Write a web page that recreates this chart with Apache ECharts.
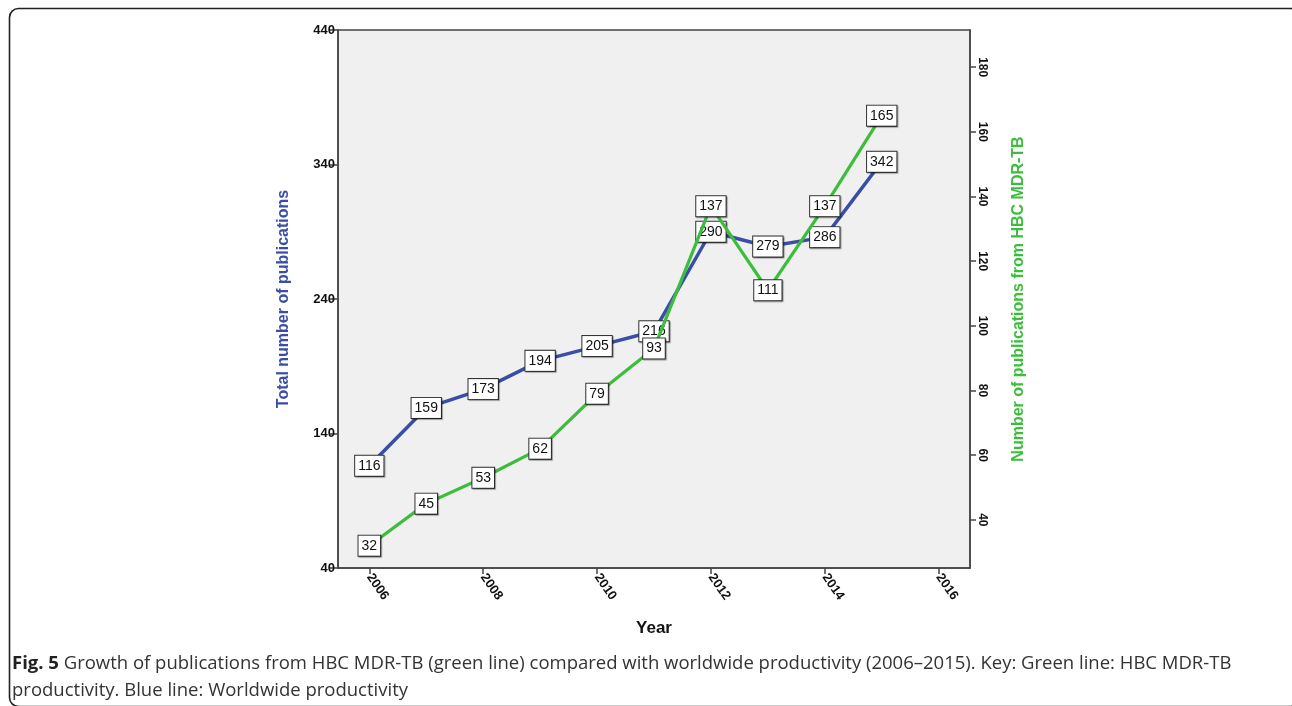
<!DOCTYPE html>
<html>
<head>
<meta charset="utf-8">
<script src="https://cdn.jsdelivr.net/npm/echarts@6/dist/echarts.min.js"></script>
<style>
html,body{margin:0;padding:0;background:#fff;}
#chart{width:1292px;height:706px;}
</style>
</head>
<body>
<div id="chart"></div>
<script>
const years = [2006, 2007, 2008, 2009, 2010, 2011, 2012, 2013, 2014, 2015];
const worldwide = [116, 159, 173, 194, 205, 216, 290, 279, 286, 342];
const hbcMdrTb = [32, 45, 53, 62, 79, 93, 137, 111, 137, 165];
const xTicks = [2006, 2008, 2010, 2012, 2014, 2016];
const leftTicks = [40, 140, 240, 340, 440];
const rightTicks = [40, 60, 80, 100, 120, 140, 160, 180];
const captionLine1 = 'Growth of publications from HBC MDR-TB (green line) compared with worldwide productivity (2006\u20132015). Key: Green line: HBC MDR-TB';
const captionLine2 = 'productivity. Blue line: Worldwide productivity';

const BLUE = '#3a4ea8';
const GREEN = '#3cbe3c';

const chart = echarts.init(document.getElementById('chart'), null, {renderer: 'canvas'});

const labelStyle = {
  show: true,
  position: 'inside',
  color: '#111',
  fontSize: 14,
  fontFamily: '"Liberation Sans", Arial, sans-serif',
  backgroundColor: '#fff',
  borderColor: '#333',
  borderWidth: 1,
  padding: [4, 3, 2, 3],
  shadowColor: 'rgba(0,0,0,0.35)',
  shadowOffsetX: 1,
  shadowOffsetY: 1,
  shadowBlur: 1
};

const axisFont = {
  color: '#111',
  fontWeight: 'bold',
  fontSize: 13,
  fontFamily: '"Liberation Sans", Arial, sans-serif'
};

chart.setOption({
  animation: false,
  grid: {
    left: 338, right: 322, top: 30, bottom: 138,
    show: true, backgroundColor: '#f0f0f0', borderColor: '#444', borderWidth: 1.5
  },
  xAxis: {
    type: 'value',
    min: 2005.45, max: 2016.55,
    name: 'Year',
    nameLocation: 'middle',
    nameGap: 52,
    nameTextStyle: {fontSize: 17, fontWeight: 'bold', color: '#111', fontFamily: '"Liberation Sans", Arial, sans-serif'},
    splitLine: {show: false},
    axisLine: {show: true, lineStyle: {color: '#444', width: 1.5}},
    axisTick: {show: true, customValues: xTicks, length: 6, lineStyle: {color: '#444', width: 1.5}},
    axisLabel: Object.assign({customValues: xTicks, rotate: -55, margin: 7, formatter: v => String(v)}, axisFont)
  },
  yAxis: [
    {
      type: 'value',
      position: 'left',
      min: 40, max: 440, interval: 100,
      name: 'Total number of publications',
      nameLocation: 'middle',
      nameGap: 46,
      nameRotate: 90,
      nameTextStyle: {fontSize: 16, fontWeight: 'bold', color: BLUE, fontFamily: '"Liberation Sans", Arial, sans-serif'},
      splitLine: {show: false},
      axisLine: {show: true, lineStyle: {color: '#444', width: 1.5}},
      axisTick: {show: true, length: 8, lineStyle: {color: '#444', width: 1.5}},
      axisLabel: Object.assign({margin: 3}, axisFont)
    },
    {
      type: 'value',
      position: 'right',
      min: 25.1, max: 191.5,
      name: 'Number of publications from HBC MDR-TB',
      nameLocation: 'middle',
      nameGap: 41,
      nameRotate: 90,
      nameTextStyle: {fontSize: 16, fontWeight: 'bold', color: GREEN, fontFamily: '"Liberation Sans", Arial, sans-serif'},
      splitLine: {show: false},
      axisLine: {show: true, lineStyle: {color: '#444', width: 1.5}},
      axisTick: {show: true, customValues: rightTicks, length: 6, lineStyle: {color: '#444', width: 1.5}},
      axisLabel: Object.assign({customValues: rightTicks, rotate: -90, margin: 6}, axisFont, {fontSize: 12})
    }
  ],
  series: [
    {
      type: 'line',
      yAxisIndex: 0,
      z: 2,
      data: years.map((y, i) => [y, worldwide[i]]),
      symbol: 'rect', symbolSize: 1,
      itemStyle: {color: BLUE},
      lineStyle: {color: BLUE, width: 3.5},
      label: labelStyle
    },
    {
      type: 'line',
      yAxisIndex: 1,
      z: 3,
      data: years.map((y, i) => [y, hbcMdrTb[i]]),
      symbol: 'rect', symbolSize: 1,
      itemStyle: {color: GREEN},
      lineStyle: {color: GREEN, width: 3.2},
      label: labelStyle
    }
  ],
  graphic: [
    {
      type: 'rect', silent: true, z: 0,
      shape: {x: 9.5, y: 8.5, width: 1290, height: 698, r: 9},
      style: {fill: 'none', stroke: '#222', lineWidth: 1.6}
    },
    {
      type: 'text', left: 12, top: 654, silent: true,
      style: {
        text: '{b|Fig. 5} ' + captionLine1,
        font: '18.5px "Open Sans", sans-serif',
        fill: '#333',
        rich: {b: {fontWeight: 'bold', fontSize: 18.5, fontFamily: '"Open Sans", sans-serif', fill: '#222'}}
      }
    },
    {
      type: 'text', left: 12, top: 681, silent: true,
      style: {text: captionLine2, font: '18.5px "Open Sans", sans-serif', fill: '#333'}
    }
  ]
});
</script>
</body>
</html>
